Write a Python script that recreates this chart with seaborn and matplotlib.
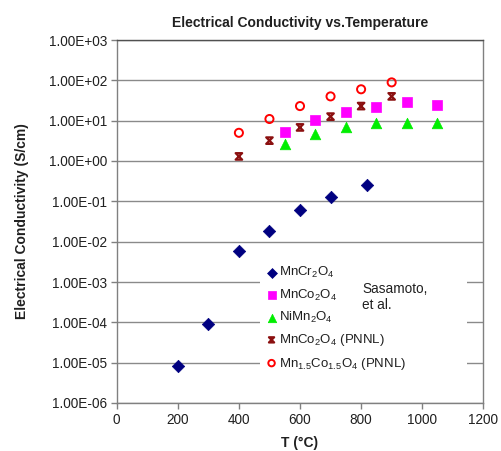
import numpy as np
import pandas as pd
import matplotlib
matplotlib.use("Agg")
import matplotlib.pyplot as plt
import seaborn as sns
from matplotlib.path import Path
from matplotlib.patches import Rectangle
from matplotlib.ticker import FixedLocator, FuncFormatter, NullLocator

# ---- data ----
t_mncr = [200, 300, 400, 500, 600, 700, 820]
s_mncr = [8.5e-6, 9.0e-5, 6.0e-3, 1.85e-2, 6.0e-2, 1.3e-1, 2.5e-1]

t_mnco = [550, 650, 750, 850, 950, 1050]
s_mnco = [5.3, 10.2, 16.8, 22.0, 29.0, 24.0]

t_nimn = [550, 650, 750, 850, 950, 1050]
s_nimn = [2.7, 4.6, 7.0, 8.9, 8.9, 8.9]

t_mnco_pnnl = [400, 500, 600, 700, 800, 900]
s_mnco_pnnl = [1.3, 3.2, 6.8, 12.6, 23.0, 40.0]

t_mn15 = [400, 500, 600, 700, 800, 900]
s_mn15 = [5.0, 11.0, 23.0, 40.0, 60.0, 89.0]

labels = [r"MnCr$_2$O$_4$", r"MnCo$_2$O$_4$", r"NiMn$_2$O$_4$",
          r"MnCo$_2$O$_4$ (PNNL)", r"Mn$_{1.5}$Co$_{1.5}$O$_4$ (PNNL)"]
x_ticks = [0, 200, 400, 600, 800, 1000, 1200]
y_ticks = [1e-6, 1e-5, 1e-4, 1e-3, 1e-2, 1e-1, 1e0, 1e1, 1e2, 1e3]

sns.set_theme(style="white")
plt.rcParams['font.family'] = ['Liberation Sans', 'DejaVu Sans']
plt.rcParams['mathtext.fontset'] = 'custom'
plt.rcParams['mathtext.rm'] = 'Liberation Sans'
plt.rcParams['mathtext.it'] = 'Liberation Sans:italic'
plt.rcParams['mathtext.bf'] = 'Liberation Sans:bold'

fig = plt.figure(figsize=(5.02, 4.51), dpi=100)
ax = fig.add_axes([116.7/502, 1-403/451, (483.3-116.7)/502, (403-40)/451])

# hourglass-like star marker (X with bars)
hg = Path([(-1, -1), (1, 1), (-1, 1), (1, -1), (-1, -1)],
          [Path.MOVETO, Path.LINETO, Path.LINETO, Path.LINETO, Path.CLOSEPOLY])

sns.scatterplot(x=t_mncr, y=s_mncr, marker='D', s=40, color='#000080',
                edgecolor='#000080', linewidth=0.5, ax=ax, label=labels[0], zorder=3)
sns.scatterplot(x=t_mnco, y=s_mnco, marker='s', s=52, color='#FF00FF',
                edgecolor='#FF00FF', linewidth=0.5, ax=ax, label=labels[1], zorder=3)
sns.scatterplot(x=t_nimn, y=s_nimn, marker='^', s=58, color='#00EE00',
                edgecolor='#00EE00', linewidth=0.5, ax=ax, label=labels[2], zorder=3)
sns.scatterplot(x=t_mnco_pnnl, y=s_mnco_pnnl, marker=hg, s=22, facecolor='none',
                edgecolor='#8B1010', linewidth=1.6, ax=ax, label=labels[3], zorder=3)
sns.scatterplot(x=t_mn15, y=s_mn15, marker='o', s=34, facecolor='none',
                edgecolor='#FF0000', linewidth=1.4, ax=ax, label=labels[4], zorder=3)

ax.set_yscale('log')
ax.set_xlim(0, 1200)
ax.set_ylim(1e-6, 1e3)
ax.xaxis.set_major_locator(FixedLocator(x_ticks))
ax.yaxis.set_major_locator(FixedLocator(y_ticks))
ax.yaxis.set_minor_locator(NullLocator())
ax.yaxis.set_major_formatter(FuncFormatter(lambda v, p: f"{v:.2E}"))

ax.grid(True, axis='y', color='#8a8a8a', linewidth=1.0)
ax.grid(False, axis='x')
ax.set_axisbelow(True)
for sp in ax.spines.values():
    sp.set_visible(True)
    sp.set_color('#808080')
    sp.set_linewidth(1.0)
ax.spines['top'].set_color('#505050')

ax.tick_params(axis='both', which='major', direction='out', length=4, width=1,
               color='#808080', labelsize=9.8, labelcolor='#202020', pad=3,
               left=True, bottom=True)

ax.set_title("Electrical Conductivity vs.Temperature", fontsize=10,
             fontweight='bold', color='#202020', pad=9)
ax.set_xlabel("T (°C)", fontsize=10, fontweight='bold', color='#202020', labelpad=7)
ax.set_ylabel("Electrical Conductivity (S/cm)", fontsize=10, fontweight='bold',
              color='#202020', labelpad=14)

# white legend background box
ax.add_patch(Rectangle((0.39, 0.041), 0.565, 0.353, transform=ax.transAxes,
                       facecolor='white', edgecolor='none', zorder=2))

leg = ax.legend(loc='upper left', bbox_to_anchor=(0.39, 0.394),
                frameon=False, fontsize=9.5,
                handletextpad=0.05, handlelength=1.0, borderpad=0.4,
                labelspacing=0.55, borderaxespad=0.0, markerscale=0.8)
for txt in leg.get_texts():
    txt.set_color('#202020')

ax.text(0.67, 0.292, "Sasamoto,\net al.", transform=ax.transAxes, fontsize=9.8,
        color='#202020', va='center', ha='left', linespacing=1.25, zorder=10)

fig.savefig("out.png", dpi=100)
